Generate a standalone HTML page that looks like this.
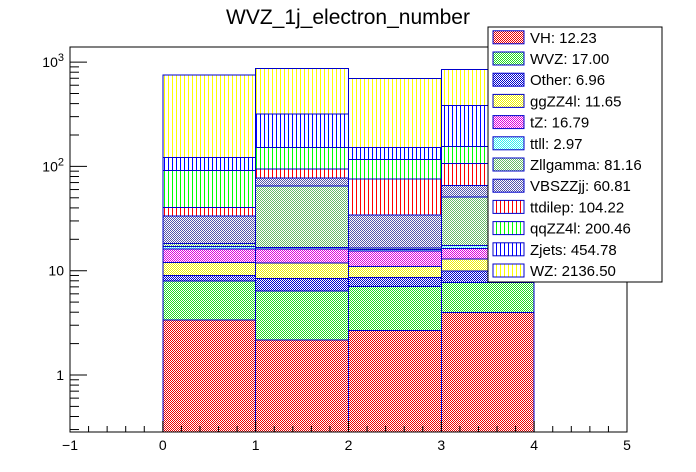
<!DOCTYPE html>
<html><head><meta charset="utf-8"><style>
body{margin:0;background:#fff;}
svg{display:block;font-family:"Liberation Sans",sans-serif;}
</style></head><body>
<svg id="c" width="696" height="472">
<defs>
<pattern id="pc0" width="2" height="2" patternUnits="userSpaceOnUse"><rect width="2" height="2" fill="#fff"/><rect width="1" height="1" fill="#ee0000"/><rect x="1" y="1" width="1" height="1" fill="#ee0000"/></pattern>
<pattern id="pc1" width="2" height="2" patternUnits="userSpaceOnUse"><rect width="2" height="2" fill="#fff"/><rect width="1" height="1" fill="#22dd22"/><rect x="1" y="1" width="1" height="1" fill="#22dd22"/></pattern>
<pattern id="pc2" width="2" height="2" patternUnits="userSpaceOnUse"><rect width="2" height="2" fill="#fff"/><rect width="1" height="1" fill="#0000cc"/><rect x="1" y="1" width="1" height="1" fill="#0000cc"/></pattern>
<pattern id="pc3" width="2" height="2" patternUnits="userSpaceOnUse"><rect width="2" height="2" fill="#fff"/><rect width="1" height="1" fill="#f0f000"/><rect x="1" y="1" width="1" height="1" fill="#f0f000"/></pattern>
<pattern id="pc4" width="2" height="2" patternUnits="userSpaceOnUse"><rect width="2" height="2" fill="#fff"/><rect width="1" height="1" fill="#dd00dd"/><rect x="1" y="1" width="1" height="1" fill="#dd00dd"/></pattern>
<pattern id="pc5" width="2" height="2" patternUnits="userSpaceOnUse"><rect width="2" height="2" fill="#fff"/><rect width="1" height="1" fill="#33eeee"/><rect x="1" y="1" width="1" height="1" fill="#33eeee"/></pattern>
<pattern id="pc6" width="2" height="2" patternUnits="userSpaceOnUse"><rect width="2" height="2" fill="#fff"/><rect width="1" height="1" fill="#66bb66"/><rect x="1" y="1" width="1" height="1" fill="#66bb66"/></pattern>
<pattern id="pc7" width="2" height="2" patternUnits="userSpaceOnUse"><rect width="2" height="2" fill="#fff"/><rect width="1" height="1" fill="#5555aa"/><rect x="1" y="1" width="1" height="1" fill="#5555aa"/></pattern>
<pattern id="pc8" width="4" height="4" patternUnits="userSpaceOnUse"><rect width="4" height="4" fill="#fff"/><rect width="1" height="4" fill="#ff0000"/></pattern>
<pattern id="pc9" width="4" height="4" patternUnits="userSpaceOnUse"><rect width="4" height="4" fill="#fff"/><rect width="1" height="4" fill="#00ff00"/></pattern>
<pattern id="pc10" width="4" height="4" patternUnits="userSpaceOnUse"><rect width="4" height="4" fill="#fff"/><rect width="1" height="4" fill="#0000ff"/></pattern>
<pattern id="pc11" width="4" height="4" patternUnits="userSpaceOnUse"><rect width="4" height="4" fill="#fff"/><rect width="1" height="4" fill="#ffff00"/></pattern>
</defs>
<text x="348" y="24" font-size="21" text-anchor="middle">WVZ_1j_electron_number</text>
<g id="bars" shape-rendering="crispEdges"></g>
<g id="axes"></g>
<g id="legend"></g>
</svg>
<script>
const binEdges = [0, 1, 2, 3, 4];
const seriesNames = ["VH","WVZ","Other","ggZZ4l","tZ","ttll","Zllgamma","VBSZZjj","ttdilep","qqZZ4l","Zjets","WZ"];
const legendLabels = ["VH: 12.23","WVZ: 17.00","Other: 6.96","ggZZ4l: 11.65","tZ: 16.79","ttll: 2.97","Zllgamma: 81.16","VBSZZjj: 60.81","ttdilep: 104.22","qqZZ4l: 200.46","Zjets: 454.78","WZ: 2136.50"];
const vhVals = [3.37, 2.17, 2.68, 3.99];
const wvzVals = [4.59, 4.21, 4.40, 3.68];
const otherVals = [0.99, 2.07, 1.55, 2.26];
const ggzzVals = [3.05, 3.35, 2.37, 2.97];
const tzVals = [4.1, 4.3, 4.5, 3.5];
const ttllVals = [0.9, 0.5, 0.5, 1.1];
const zllgVals = [1.3, 48.3, 0.5, 33.4];
const vbsVals = [15.1, 12.5, 17.7, 15.0];
const ttdilepVals = [7.1, 17.0, 41.5, 41.1];
const qqzzVals = [51.1, 57.6, 41.3, 49];
const zjetsVals = [30.4, 166, 35, 229];
const wzVals = [630, 554, 547, 468];
const xTicks = [-1, 0, 1, 2, 3, 4, 5];
const yTickVals = [1, 10, 100, 1000];
const yTickLabels = ["1", "10", "10<tspan dy='-6' font-size='11'>2</tspan>", "10<tspan dy='-6' font-size='11'>3</tspan>"];

const series = [vhVals,wvzVals,otherVals,ggzzVals,tzVals,ttllVals,zllgVals,vbsVals,ttdilepVals,qqzzVals,zjetsVals,wzVals];
const L=70,R=627,T=47,B=432;
const X = v => L + (v + 1) * (R - L) / 6;
const Y = v => 375 - 104.3 * Math.log10(v);
const NS="http://www.w3.org/2000/svg";
function mk(tag, attrs, parent){const e=document.createElementNS(NS,tag);for(const k in attrs)e.setAttribute(k,attrs[k]);parent.appendChild(e);return e;}
const bars=document.getElementById('bars');
const cum=[0,0,0,0];
series.forEach((vals,s)=>{
  for(let b=0;b<vals.length;b++){
    const lo=cum[b], hi=cum[b]+vals[b];
    cum[b]=hi;
    const y0 = lo>0 ? Math.min(Y(lo),B) : B;
    const y1 = Math.max(Y(hi),T);
    const r=mk('rect',{x:X(binEdges[b]),y:y1,width:X(binEdges[b+1])-X(binEdges[b]),height:Math.max(0,y0-y1),fill:'url(#pc'+s+')',stroke:'#0000cc','stroke-width':1},bars);
    
    
  }
});
const ax=document.getElementById('axes');
const fr=mk('rect',{x:L,y:T,width:R-L,height:B-T,fill:'none',stroke:'#000','stroke-width':1},ax);


xTicks.forEach(t=>{
  mk('line',{x1:X(t),x2:X(t),y1:B,y2:B-11,stroke:'#000'},ax);
  if(t<5) for(let k=1;k<5;k++){const xx=X(t+k*0.2);mk('line',{x1:xx,x2:xx,y1:B,y2:B-6,stroke:'#000'},ax);}
  const tx=mk('text',{x:X(t),y:B+18,'font-size':14,'text-anchor':'middle'},ax);
  tx.textContent = t<0 ? '\u2212'+Math.abs(t) : String(t);
  
  
});
for(let d=-1;d<=3;d++){
  for(let m=1;m<10;m++){
    const v=m*Math.pow(10,d); const yy=Y(v);
    if(yy<T||yy>B) continue;
    mk('line',{x1:L,x2:L+(m===1?17:9),y1:yy,y2:yy,stroke:'#000'},ax);
  }
}
yTickVals.forEach((v,i)=>{
  const tx=mk('text',{x:L-6,y:Y(v)+5,'font-size':14,'text-anchor':'end'},ax);
  tx.innerHTML=yTickLabels[i];
  
  
});
const lg=document.getElementById('legend');
const box=mk('rect',{x:488,y:27,width:174,height:255,fill:'#fff',stroke:'#000','stroke-width':1},lg);


legendLabels.forEach((lab,i)=>{
  const cy=37.3+i*21.2;
  const sw=mk('rect',{x:493,y:cy-6.5,width:31,height:13,fill:'url(#pc'+i+')',stroke:'#0000cc','stroke-width':1},lg);
  
  
  const tx=mk('text',{x:530,y:cy+5.5,'font-size':15},lg);
  tx.textContent=lab;
  
  
});
</script>
</body></html>
